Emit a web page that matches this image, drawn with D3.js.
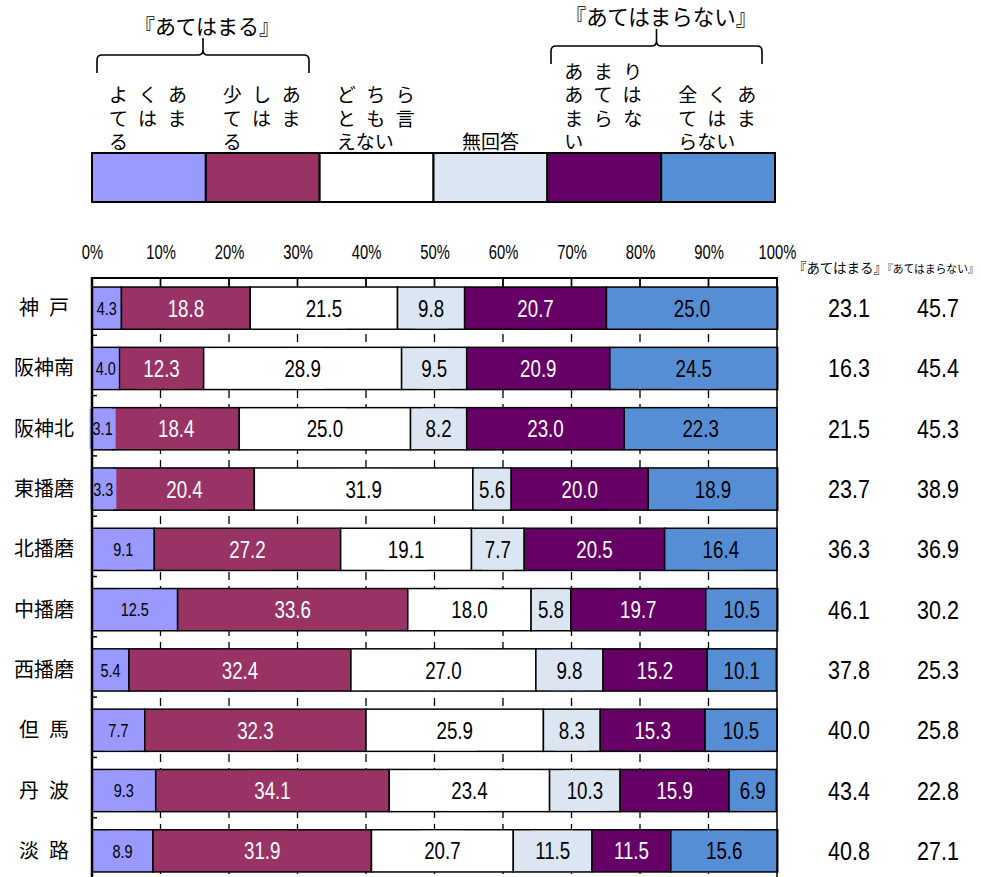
<!DOCTYPE html>
<html><head><meta charset="utf-8">
<script src="https://cdn.jsdelivr.net/npm/d3@7"></script>
<style>
html,body{margin:0;padding:0;background:#fff;}
svg{display:block;}
.jp{font-family:"Noto Sans CJK JP","Noto Sans",sans-serif;}
.num{font-family:"Liberation Sans","Arial",sans-serif;}
</style></head>
<body>
<svg id="c" width="981" height="877"></svg>
<script>
const regions = ["神戸","阪神南","阪神北","東播磨","北播磨","中播磨","西播磨","但馬","丹波","淡路"];
const seriesNames = ["よくあてはまる","少しあてはまる","どちらとも言えない","無回答","あまりあてはまらない","全くあてはまらない"];
const seriesColors = ["#9999FF","#993366","#FFFFFF","#DCE6F2","#660066","#558ED5"];
const seriesTextColors = ["#000","#fff","#000","#000","#fff","#000"];
const yokuAtehamaru   = [4.3,4.0,3.1,3.3,9.1,12.5,5.4,7.7,9.3,8.9];
const sukoshiAtehamaru= [18.8,12.3,18.4,20.4,27.2,33.6,32.4,32.3,34.1,31.9];
const dochiraTomo     = [21.5,28.9,25.0,31.9,19.1,18.0,27.0,25.9,23.4,20.7];
const mukaito         = [9.8,9.5,8.2,5.6,7.7,5.8,9.8,8.3,10.3,11.5];
const amariAtehamaranai=[20.7,20.9,23.0,20.0,20.5,19.7,15.2,15.3,15.9,11.5];
const mattakuAtehamaranai=[25.0,24.5,22.3,18.9,16.4,10.5,10.1,10.5,6.9,15.6];
const atehamaruTotal    = [23.1,16.3,21.5,23.7,36.3,46.1,37.8,40.0,43.4,40.8];
const atehamaranaiTotal = [45.7,45.4,45.3,38.9,36.9,30.2,25.3,25.8,22.8,27.1];
const tickValues = [0,10,20,30,40,50,60,70,80,90,100];
const groupLabelA = "『あてはまる』";
const groupLabelB = "『あてはまらない』";

const series = [yokuAtehamaru,sukoshiAtehamaru,dochiraTomo,mukaito,amariAtehamaranai,mattakuAtehamaranai];
const svg = d3.select("#c");

const x = d3.scaleLinear().domain([0,100]).range([92,777]);
const y = d3.scaleBand().domain(regions).range([278,881]).paddingInner(0.3).paddingOuter(0.15);

function numText(g,cx,by,txt,fs,sx,fill){
  return g.append("text").attr("class","num")
    .attr("transform",`translate(${cx},${by}) scale(${sx},1)`)
    .attr("text-anchor","middle").attr("font-size",fs).attr("fill",fill||"#000").text(txt);
}

// Legend
const leg = d3.scaleBand().domain(seriesNames).range([92,775]);
const lg = svg.append("g");
lg.selectAll("rect").data(seriesNames).join("rect")
  .attr("x",d=>leg(d)).attr("y",153).attr("width",leg.bandwidth()).attr("height",49)
  .attr("fill",(d,i)=>seriesColors[i]).attr("stroke","#000").attr("stroke-width",2);
seriesNames.forEach((name,i)=>{
  const chunks=[];
  for(let k=0;k<name.length;k+=3) chunks.push(name.slice(k,k+3));
  const n=chunks.length;
  chunks.forEach((c,j)=>{
    const yy=149-(n-1-j)*23.5;
    const t=lg.append("text").attr("class","jp").attr("font-size",19).attr("fill","#000")
      .attr("y",yy);
    if(n===1){
      t.attr("x",leg(name)+leg.bandwidth()/2).attr("text-anchor","middle").text(c);
    } else {
      t.attr("x",leg(name)+17).text(c);
      if(j<n-1) t.attr("letter-spacing",10.5);
    }
  });
});
// Brackets
function bracket(x0,x1,top,bot,peak){
  const xm=(x0+x1)/2;
  const p=d3.path();
  p.moveTo(x0,bot); p.lineTo(x0,top+5); p.quadraticCurveTo(x0,top,x0+5,top);
  p.lineTo(xm-5,top); p.quadraticCurveTo(xm,top,xm,top-5); p.lineTo(xm,peak);
  p.moveTo(xm,top-5); p.quadraticCurveTo(xm,top,xm+5,top);
  p.lineTo(x1-5,top); p.quadraticCurveTo(x1,top,x1,top+5); p.lineTo(x1,bot);
  svg.append("path").attr("d",p.toString()).attr("fill","none").attr("stroke","#000").attr("stroke-width",1.6);
}
bracket(97,309,55,73,38);
bracket(551,762,46,64,29);
svg.append("text").attr("class","jp").attr("x",207).attr("y",34).attr("text-anchor","middle").attr("font-size",21).text(groupLabelA);
svg.append("text").attr("class","jp").attr("x",661).attr("y",25).attr("text-anchor","middle").attr("font-size",21.5).text(groupLabelB);

// Gridlines dashed
svg.append("g").selectAll("line").data(tickValues.slice(1,-1)).join("line")
  .attr("x1",d=>x(d)).attr("x2",d=>x(d)).attr("y1",278).attr("y2",877)
  .attr("stroke","#000").attr("stroke-width",1.3).attr("stroke-dasharray","8,6");
// Top axis
const axis = d3.axisTop(x).tickValues(tickValues).tickFormat(d=>d+"%").tickSize(0).tickPadding(0);
const ag = svg.append("g").attr("transform","translate(0,259)").call(axis);
ag.select(".domain").remove();
ag.selectAll("text").attr("class","num").attr("font-size",20).attr("fill","#000").attr("dy","0")
  .attr("transform","scale(0.74,1)").attr("y",0);
svg.append("line").attr("x1",91).attr("x2",778).attr("y1",278).attr("y2",278).attr("stroke","#000").attr("stroke-width",2);
svg.append("g").selectAll("line").data(tickValues).join("line")
  .attr("x1",d=>x(d)).attr("x2",d=>x(d)).attr("y1",278).attr("y2",287).attr("stroke","#000").attr("stroke-width",1.5);

// Bars
const bg = svg.append("g");
regions.forEach((r,ri)=>{
  let acc=0;
  series.forEach((s,si)=>{
    const v=s[ri];
    const x0=x(acc), x1=x(acc+v);
    acc+=v;
    bg.append("rect").attr("x",x0).attr("y",y(r)).attr("width",x1-x0).attr("height",y.bandwidth())
      .attr("fill",seriesColors[si]).attr("stroke","#000").attr("stroke-width",1.5);
  });
});
// labels with background boxes
const lbg = svg.append("g");
regions.forEach((r,ri)=>{
  let acc=0;
  series.forEach((s,si)=>{
    const v=s[ri];
    const cx=x(acc+v/2);
    acc+=v;
    const fs = si===0?18.5:24;
    const sx = 0.78;
    const cy=y(r)+y.bandwidth()/2;
    const t=numText(lbg,cx,cy+fs*0.36,v.toFixed(1),fs,sx,seriesTextColors[si]);
    const w=t.node().getBBox().width*sx;
    lbg.insert("rect",function(){return t.node();})
      .attr("x",cx-w/2-3).attr("y",cy-y.bandwidth()/2+1).attr("width",w+6).attr("height",y.bandwidth()-2)
      .attr("fill",seriesColors[si]);
  });
});
// left axis line and right edge
svg.append("line").attr("x1",92).attr("x2",92).attr("y1",277).attr("y2",877).attr("stroke","#000").attr("stroke-width",2.5);
svg.append("line").attr("x1",777).attr("x2",777).attr("y1",277).attr("y2",877).attr("stroke","#000").attr("stroke-width",1.5);
svg.append("g").selectAll("line").data(regions.slice(1)).join("line")
  .attr("x1",92).attr("x2",97).attr("y1",d=>y(d)-y.step()*0.15-3).attr("y2",d=>y(d)-y.step()*0.15-3)
  .attr("stroke","#000").attr("stroke-width",1.5);

// Category labels
svg.append("g").selectAll("text").data(regions).join("text")
  .attr("class","jp").attr("x",44).attr("y",d=>y(d)+y.bandwidth()/2+7)
  .attr("text-anchor","middle").attr("font-size",20).attr("fill","#000")
  .text(d=>d.length===2?d[0]+"\u2002"+d[1]:d);

// Right columns
svg.append("text").attr("class","jp").attr("x",793).attr("y",273).attr("font-size",13.5).text(groupLabelA);
svg.append("text").attr("class","jp").attr("x",882).attr("y",273).attr("font-size",10.8).text(groupLabelB);
const rc = svg.append("g");
regions.forEach((r,i)=>{
  const by=y(r)+y.bandwidth()/2+9;
  numText(rc,849,by,atehamaruTotal[i].toFixed(1),25,0.86);
  numText(rc,938,by,atehamaranaiTotal[i].toFixed(1),25,0.86);
});
</script>
</body></html>
